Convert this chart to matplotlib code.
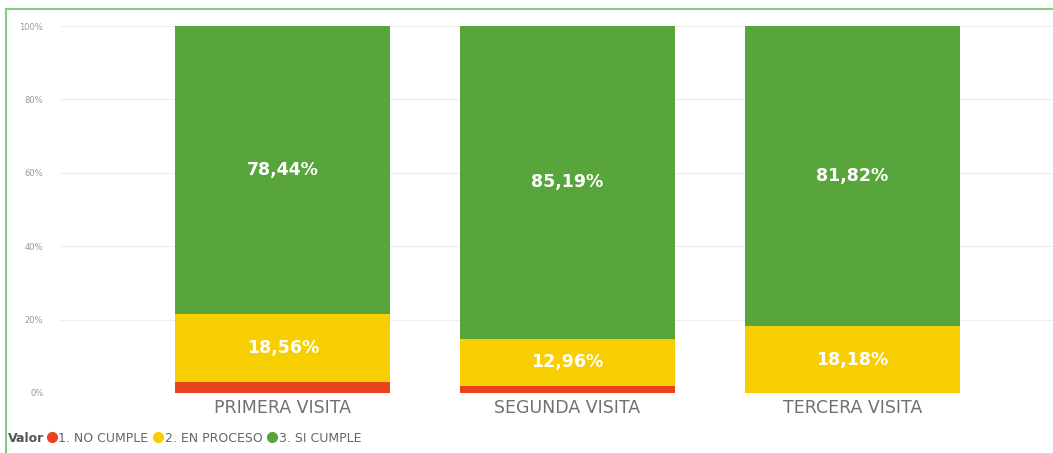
import matplotlib.pyplot as plt
import numpy as np
from matplotlib.lines import Line2D
from matplotlib.patches import Rectangle

categorias = ['PRIMERA VISITA', 'SEGUNDA VISITA', 'TERCERA VISITA']
no_cumple = [3.00, 1.85, 0.0]
en_proceso = [18.56, 12.96, 18.18]
si_cumple = [78.44, 85.19, 81.82]
series = ['1. NO CUMPLE', '2. EN PROCESO', '3. SI CUMPLE']
colores = ['#E8421E', '#F7CF00', '#58A53B']

fig = plt.figure(figsize=(10.53, 4.53), dpi=100)
ax = fig.add_axes([60/1053, 1-393/453, 993/1053, 367/453])

x = np.arange(len(categorias))
w = 0.754
base = np.zeros(len(categorias))
for vals, col in zip([no_cumple, en_proceso, si_cumple], colores):
    vals = np.array(vals)
    ax.bar(x, vals, w, bottom=base, color=col, zorder=3)
    # etiquetas solo para segmentos grandes
    for xi, b, v in zip(x, base, vals):
        if v > 5:
            ax.text(xi, b + v/2, ('%.2f%%' % v).replace('.', ','), ha='center', va='center',
                    color='white', fontsize=12.5, fontweight='bold', zorder=4)
    base += vals

ax.set_ylim(0, 100)
ax.set_xlim(-0.782, 2.705)
ax.set_yticks(np.arange(0, 101, 20))
ax.set_yticklabels(['%d%%' % v for v in range(0, 101, 20)], fontsize=6, color='#999999')
ax.set_xticks(x)
ax.set_xticklabels(categorias, fontsize=12.5, color='#707070')
ax.tick_params(length=0, pad=4)
ax.tick_params(axis='y', pad=12)
ax.grid(axis='y', color='#EEEEEE', linewidth=0.8, zorder=0)
for s in ax.spines.values():
    s.set_visible(False)

# leyenda
fig.text(8/1053, 1-438/453, 'Valor', fontsize=9, fontweight='bold', color='#555555', va='center')
handles = [Line2D([], [], marker='o', linestyle='', color=c, markersize=7) for c in colores]
fig.legend(handles, series, loc='center left', bbox_to_anchor=(47/1053, 1-438/453), ncol=3,
           frameon=False, fontsize=9, handletextpad=0.1, columnspacing=0.4,
           labelcolor='#666666', handlelength=0.8, borderaxespad=0, borderpad=0)

# borde verde
fig.patches.append(Rectangle((6/1053, -0.05), 1.1, 1 - 9/453 + 0.05, transform=fig.transFigure,
                             fill=False, edgecolor='#86CC7E', linewidth=1.5))

fig.savefig('out.png', dpi=100)
